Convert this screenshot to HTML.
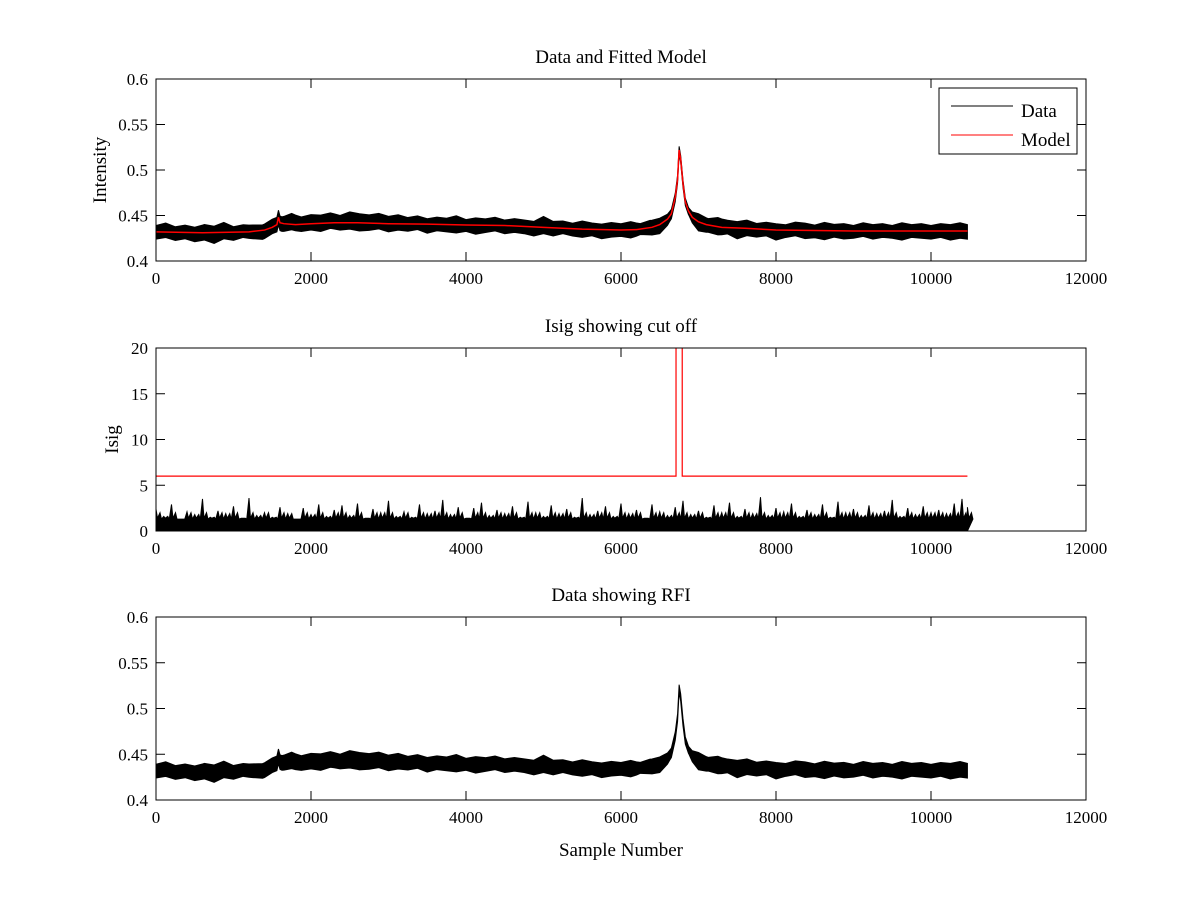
<!DOCTYPE html>
<html><head><meta charset="utf-8"><style>
html,body{margin:0;padding:0;background:#fff;}
svg text{font-family:"Liberation Serif",serif;font-size:17px;fill:#000;}
svg text.big{font-size:19px;}
</style></head><body>
<svg id="fig" width="1200" height="900" xmlns="http://www.w3.org/2000/svg"></svg>
<script>
// ---- data ----
const modelX = [0,600,1200,1400,1500,1560,1580,1600,1650,1800,2000,2300,2600,3000,3500,4000,4500,5000,5500,6000,6200,6400,6500,6600,6650,6700,6730,6750,6770,6800,6830,6870,6920,7000,7100,7300,7600,8000,9000,9800,10470];
const modelY = [0.432,0.431,0.432,0.434,0.437,0.440,0.448,0.442,0.441,0.440,0.441,0.442,0.442,0.441,0.4405,0.4395,0.439,0.437,0.435,0.434,0.4345,0.437,0.440,0.446,0.452,0.470,0.49,0.522,0.512,0.485,0.465,0.455,0.448,0.443,0.440,0.437,0.436,0.434,0.433,0.433,0.433];
const noiseX = [];
for (let i = 0; i <= 83; i++) noiseX.push(i * 125);
noiseX.push(10470);
const noiseUp = [0.007,0.010,0.006,0.008,0.006,0.009,0.007,0.011,0.006,0.008,0.007,0.006,0.009,0.007,0.012,0.008,0.010,0.009,0.011,0.008,0.012,0.010,0.009,0.011,0.008,0.010,0.007,0.009,0.006,0.008,0.007,0.010,0.006,0.008,0.007,0.009,0.006,0.008,0.007,0.006,0.012,0.007,0.008,0.006,0.009,0.007,0.006,0.008,0.007,0.009,0.006,0.008,0.007,0.005,0.004,0.004,0.009,0.007,0.010,0.008,0.007,0.009,0.006,0.008,0.007,0.006,0.009,0.008,0.006,0.009,0.007,0.008,0.006,0.009,0.007,0.008,0.006,0.009,0.007,0.008,0.006,0.008,0.007,0.009,0.007];
const noiseDn = [0.008,0.006,0.009,0.007,0.010,0.008,0.012,0.007,0.009,0.006,0.008,0.010,0.007,0.009,0.006,0.008,0.007,0.009,0.006,0.008,0.007,0.009,0.008,0.006,0.009,0.007,0.008,0.006,0.010,0.007,0.008,0.009,0.007,0.010,0.008,0.006,0.009,0.007,0.008,0.010,0.007,0.009,0.006,0.008,0.009,0.007,0.010,0.008,0.007,0.009,0.006,0.008,0.010,0.006,0.004,0.004,0.010,0.008,0.009,0.007,0.012,0.008,0.009,0.007,0.011,0.008,0.006,0.009,0.008,0.010,0.007,0.009,0.008,0.006,0.009,0.007,0.008,0.010,0.007,0.008,0.009,0.007,0.010,0.008,0.009];
const isigX = [];
for (let i = 0; i <= 104; i++) isigX.push(i * 100);
isigX.push(10470);
const isigTop = [2.4,1.6,2.9,1.3,2.1,1.8,3.5,1.5,2.2,1.9,2.7,1.4,3.6,1.7,2.0,1.5,2.6,1.9,1.3,2.5,1.8,2.9,1.6,2.3,2.8,1.7,3.0,1.4,2.4,2.0,3.3,1.6,2.1,1.5,2.9,1.9,2.2,3.4,1.8,2.6,1.4,2.5,3.1,1.7,2.3,1.9,2.7,1.5,3.2,2.0,1.6,2.8,1.9,2.4,1.5,3.6,1.8,2.2,2.7,1.6,3.0,1.9,2.3,1.4,2.9,2.1,1.7,2.6,3.3,1.8,2.2,1.5,2.8,2.0,3.1,1.6,2.4,1.9,3.7,1.7,2.5,2.1,3.0,1.6,2.3,1.8,2.9,1.5,3.2,2.0,2.4,1.7,2.8,1.9,2.2,3.4,1.6,2.5,1.8,2.7,2.0,2.3,1.9,3.0,3.5,2.6];
const cutX = [0,6710,6710,6790,6790,10470];
const cutY = [6,6,25,25,6,6];
const xTicks = [0,2000,4000,6000,8000,10000,12000];
const yTicksI = [0.4,0.45,0.5,0.55,0.6];
const yTicksS = [0,5,10,15,20];

// ---- drawing ----
const NS = "http://www.w3.org/2000/svg";
const svg = document.getElementById('fig');
function mk(tag, attrs, parent) {
  const e = document.createElementNS(NS, tag);
  for (const k in attrs) e.setAttribute(k, attrs[k]);
  (parent || svg).appendChild(e);
  return e;
}
const X0 = 156, X1 = 1086;
const xs = v => X0 + (v / 12000) * (X1 - X0);
function interp(xa, ya, x) {
  for (let i = 1; i < xa.length; i++) {
    if (x <= xa[i]) { const t = (x - xa[i-1]) / (xa[i] - xa[i-1] || 1); return ya[i-1] + t * (ya[i] - ya[i-1]); }
  }
  return ya[ya.length - 1];
}
function axes(name, top, bot, ymin, ymax, yticks, title, ylabel, ylabelX) {
  const ys = v => bot - (v - ymin) / (ymax - ymin) * (bot - top);
  const g = mk('g', {});
  
  
  const cid = name + '-clip';
  const cp = mk('clipPath', {id: cid}, g);
  mk('rect', {x: X0, y: top, width: X1 - X0, height: bot - top}, cp);
  const plot = mk('g', {'clip-path': 'url(#' + cid + ')'}, g);
  
  
  const frame = mk('rect', {x: X0, y: top, width: X1 - X0, height: bot - top, fill: 'none', stroke: '#000', 'stroke-width': 1}, g);
  
  
  xTicks.forEach(t => {
    const x = xs(t);
    mk('line', {x1: x, x2: x, y1: bot, y2: bot - 9, stroke: '#000'}, g);
    mk('line', {x1: x, x2: x, y1: top, y2: top + 9, stroke: '#000'}, g);
    const tx = mk('text', {x: x, y: bot + 23, 'text-anchor': 'middle'}, g);
    tx.textContent = t;
    
    
  });
  yticks.forEach(t => {
    const y = ys(t);
    mk('line', {x1: X0, x2: X0 + 9, y1: y, y2: y, stroke: '#000'}, g);
    mk('line', {x1: X1, x2: X1 - 9, y1: y, y2: y, stroke: '#000'}, g);
    const tx = mk('text', {x: X0 - 8, y: y + 6, 'text-anchor': 'end'}, g);
    tx.textContent = t;
    
    
  });
  const tt = mk('text', {x: 621, y: top - 16, 'text-anchor': 'middle', 'class': 'big'}, g);
  tt.textContent = title;
  
  
  if (ylabel) {
    const cy = (top + bot) / 2;
    const yl = mk('text', {x: ylabelX, y: cy, 'text-anchor': 'middle', 'class': 'big', transform: 'rotate(-90 ' + ylabelX + ' ' + cy + ')'}, g);
    yl.textContent = ylabel;
    
    
  }
  return {ys, plot};
}
function dataBand(ax) {
  const xsAll = Array.from(new Set(modelX.concat(noiseX))).sort((a, b) => a - b);
  const up = xsAll.map(x => [xs(x), ax.ys(interp(modelX, modelY, x) + interp(noiseX, noiseUp, x))]);
  const dn = xsAll.map(x => [xs(x), ax.ys(interp(modelX, modelY, x) - interp(noiseX, noiseDn, x))]).reverse();
  const p = mk('polygon', {points: up.concat(dn).map(p => p.join(',')).join(' '), fill: '#000', stroke: '#000', 'stroke-width': 1}, ax.plot);
  
  
}

// subplot 1
const a1 = axes('subplot-data-model', 79, 261, 0.4, 0.6, yTicksI, 'Data and Fitted Model', 'Intensity', 106);
dataBand(a1);
const ml = mk('polyline', {points: modelX.map((x, i) => xs(x) + ',' + a1.ys(modelY[i])).join(' '), fill: 'none', stroke: '#f00', 'stroke-width': 1.5}, a1.plot);


// legend
const lg = mk('g', {});


mk('rect', {x: 939, y: 88, width: 138, height: 66, fill: '#fff', stroke: '#000'}, lg);
mk('line', {x1: 951, x2: 1013, y1: 106, y2: 106, stroke: '#000'}, lg);
mk('line', {x1: 951, x2: 1013, y1: 135, y2: 135, stroke: '#f00'}, lg);
const l1 = mk('text', {x: 1021, y: 117, 'class': 'big'}, lg); l1.textContent = 'Data';


const l2 = mk('text', {x: 1021, y: 146, 'class': 'big'}, lg); l2.textContent = 'Model';



// subplot 2
const a2 = axes('subplot-isig', 348, 531, 0, 20, yTicksS, 'Isig showing cut off', 'Isig', 118);
const ip = [[xs(0), a2.ys(0)]];
isigX.forEach((x, i) => { ip.push([xs(x), a2.ys(isigTop[i])]); ip.push([xs(x) + 1.5, a2.ys(Math.min(isigTop[i], 1.4))]); ip.push([xs(x) + 4, a2.ys(Math.min(isigTop[i], 2.0))]); ip.push([xs(x) + 5.5, a2.ys(Math.min(isigTop[i], 1.3))]); });
ip.push([xs(10470), a2.ys(0)]);
const ipoly = mk('polygon', {points: ip.map(p => p.join(',')).join(' '), fill: '#000', stroke: '#000', 'stroke-width': 1}, a2.plot);


const cl = mk('polyline', {points: cutX.map((x, i) => xs(x) + ',' + a2.ys(cutY[i])).join(' '), fill: 'none', stroke: '#f00', 'stroke-width': 1.2}, a2.plot);



// subplot 3
const a3 = axes('subplot-rfi', 617, 800, 0.4, 0.6, yTicksI, 'Data showing RFI', null, 0);
dataBand(a3);
const xl = mk('text', {x: 621, y: 856, 'text-anchor': 'middle', 'class': 'big'});
xl.textContent = 'Sample Number';


</script>
</body></html>
